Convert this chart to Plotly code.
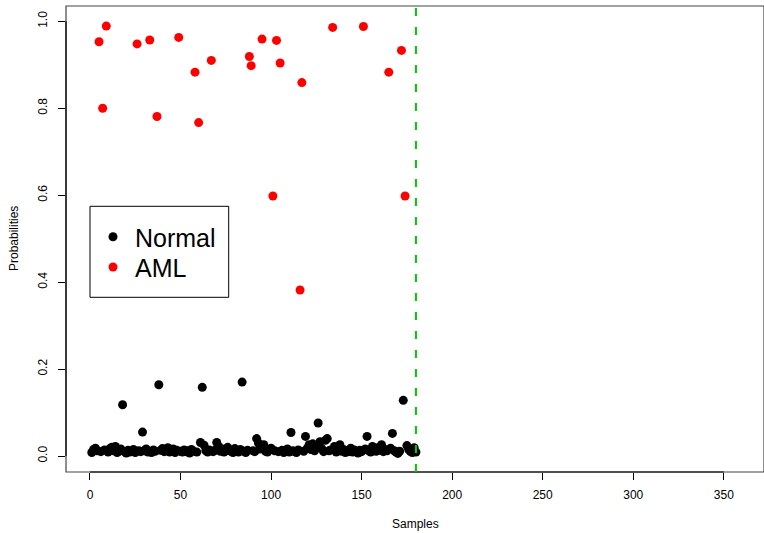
import plotly.graph_objects as go

# ---- data ----
aml_x = [5, 7, 9, 26, 33, 37, 49, 58, 60, 67, 88, 89, 95, 101, 103, 105, 116, 117, 134, 151, 165, 172, 174]
aml_y = [0.953, 0.800, 0.989, 0.948, 0.957, 0.781, 0.963, 0.883, 0.767, 0.910, 0.919, 0.898, 0.959,
         0.598, 0.956, 0.904, 0.382, 0.859, 0.986, 0.988, 0.883, 0.933, 0.598]

normal_x = [1, 2, 3, 4, 6, 8, 10, 11, 12, 13,
            14, 15, 16, 17, 18, 19, 20, 21, 22, 23,
            24, 25, 27, 28, 29, 30, 31, 32, 34, 35,
            36, 38, 39, 40, 41, 42, 43, 44, 45, 46,
            47, 48, 50, 51, 52, 53, 54, 55, 56, 57,
            59, 61, 62, 63, 64, 65, 66, 68, 69, 70,
            71, 72, 73, 74, 75, 76, 77, 78, 79, 80,
            81, 82, 83, 84, 85, 86, 87, 90, 91, 92,
            93, 94, 96, 97, 98, 99, 100, 102, 104, 106,
            107, 108, 109, 110, 111, 112, 113, 114, 115, 118,
            119, 120, 121, 122, 123, 124, 125, 126, 127, 128,
            129, 130, 131, 132, 133, 135, 136, 137, 138, 139,
            140, 141, 142, 143, 144, 145, 146, 147, 148, 149,
            150, 152, 153, 154, 155, 156, 157, 158, 159, 160,
            161, 162, 163, 164, 166, 167, 168, 169, 170, 171,
            173, 175, 176, 177, 178, 179, 180]
normal_y = [0.008, 0.015, 0.018, 0.012, 0.010, 0.014, 0.009, 0.017, 0.020, 0.012,
            0.022, 0.008, 0.011, 0.016, 0.118, 0.010, 0.007, 0.013, 0.009, 0.011,
            0.015, 0.008, 0.012, 0.010, 0.055, 0.012, 0.016, 0.009, 0.008, 0.014,
            0.011, 0.164, 0.013, 0.017, 0.010, 0.015, 0.019, 0.009, 0.012, 0.016,
            0.008, 0.013, 0.011, 0.009, 0.014, 0.010, 0.012, 0.007, 0.015, 0.011,
            0.009, 0.031, 0.158, 0.025, 0.012, 0.009, 0.014, 0.010, 0.013, 0.031,
            0.022, 0.011, 0.016, 0.009, 0.012, 0.020, 0.014, 0.010, 0.008, 0.017,
            0.012, 0.009, 0.015, 0.170, 0.011, 0.008, 0.013, 0.012, 0.010, 0.040,
            0.030, 0.016, 0.026, 0.011, 0.009, 0.014, 0.018, 0.012, 0.010, 0.013,
            0.008, 0.011, 0.016, 0.009, 0.054, 0.012, 0.010, 0.008, 0.014, 0.011,
            0.045, 0.018, 0.026, 0.015, 0.028, 0.012, 0.020, 0.076, 0.033, 0.017,
            0.010, 0.036, 0.040, 0.012, 0.014, 0.022, 0.009, 0.013, 0.026, 0.011,
            0.015, 0.008, 0.012, 0.010, 0.018, 0.009, 0.014, 0.011, 0.007, 0.013,
            0.010, 0.016, 0.045, 0.012, 0.009, 0.022, 0.014, 0.011, 0.019, 0.013,
            0.026, 0.010, 0.015, 0.012, 0.018, 0.052, 0.012, 0.009, 0.006, 0.011,
            0.128, 0.024, 0.015, 0.010, 0.008, 0.019, 0.009]

cutoff_x = 180
x_ticks = [0, 50, 100, 150, 200, 250, 300, 350]
y_ticks = [0.0, 0.2, 0.4, 0.6, 0.8, 1.0]
y_tick_text = ["0.0", "0.2", "0.4", "0.6", "0.8", "1.0"]

FONT = "Liberation Sans, Arial, Helvetica, sans-serif"

fig = go.Figure()
fig.add_trace(go.Scatter(x=normal_x, y=normal_y, mode="markers", name="Normal", legend="legend",
                         marker=dict(color="black", size=9, line=dict(width=0))))
fig.add_trace(go.Scatter(x=aml_x, y=aml_y, mode="markers", name="AML", legend="legend2",
                         marker=dict(color="#FF0000", size=9, line=dict(width=0))))

# plot region (pixels)
L, R, T, B = 66, 764, 5.7, 471.7
W, H = 764, 533


def px_x(p):
    return (p - L) / (R - L)


def px_y(p):
    return (B - p) / (B - T)


leg_common = dict(xanchor="left", yanchor="top", bgcolor="rgba(0,0,0,0)", borderwidth=0,
                  font=dict(size=25, family=FONT, color="black"), itemsizing="trace",
                  itemwidth=34)

fig.update_layout(
    width=W, height=H,
    margin=dict(l=L, r=W - R, t=T, b=H - B, pad=0),
    paper_bgcolor="white", plot_bgcolor="white",
    font=dict(family=FONT, size=12, color="black"),
    showlegend=True,
    legend=dict(x=px_x(91), y=px_y(213.7), **leg_common),
    legend2=dict(x=px_x(91), y=px_y(244), **leg_common),
    xaxis=dict(range=[-13.25, 372.2], tickmode="array", tickvals=x_ticks,
               ticks="outside", ticklen=7, tickwidth=1, tickcolor="black",
               showgrid=False, zeroline=False, showline=False,
               ticklabelstandoff=5, automargin=False),
    yaxis=dict(range=[-0.0368, 1.0352], tickmode="array", tickvals=y_ticks, ticktext=y_tick_text,
               tickangle=-90, ticks="outside", ticklen=7, tickwidth=1, tickcolor="black",
               showgrid=False, zeroline=False, showline=False,
               ticklabelstandoff=6, automargin=False),
    shapes=[
        dict(type="rect", xref="paper", yref="paper", x0=0, x1=1, y0=0, y1=1,
             line=dict(color="#444444", width=1.2), fillcolor="rgba(0,0,0,0)", layer="above"),
        dict(type="line", xref="x", yref="paper", x0=x_ticks[0], x1=x_ticks[-1], y0=0, y1=0,
             line=dict(color="black", width=1.2)),
        dict(type="line", xref="paper", yref="y", x0=0, x1=0, y0=y_ticks[0], y1=y_ticks[-1],
             line=dict(color="black", width=1.2)),
        dict(type="line", xref="x", yref="paper", x0=cutoff_x, x1=cutoff_x, y0=0, y1=1,
             line=dict(color="#00CD00", width=2, dash="8px,11px"), layer="above"),
        dict(type="rect", xref="paper", yref="paper",
             x0=px_x(90), x1=px_x(228.7), y0=px_y(297), y1=px_y(206),
             line=dict(color="black", width=1), fillcolor="white", layer="above"),
    ],
    annotations=[
        dict(text="Samples", xref="paper", yref="paper", x=0.5, y=0, yshift=-(524 - B),
             xanchor="center", yanchor="middle", showarrow=False, font=dict(size=12)),
        dict(text="Probabilities", xref="paper", yref="paper", x=0, y=0.5, xshift=14 - L,
             xanchor="center", yanchor="middle", textangle=-90, showarrow=False, font=dict(size=12)),
    ],
)

fig.write_html("out.html")
